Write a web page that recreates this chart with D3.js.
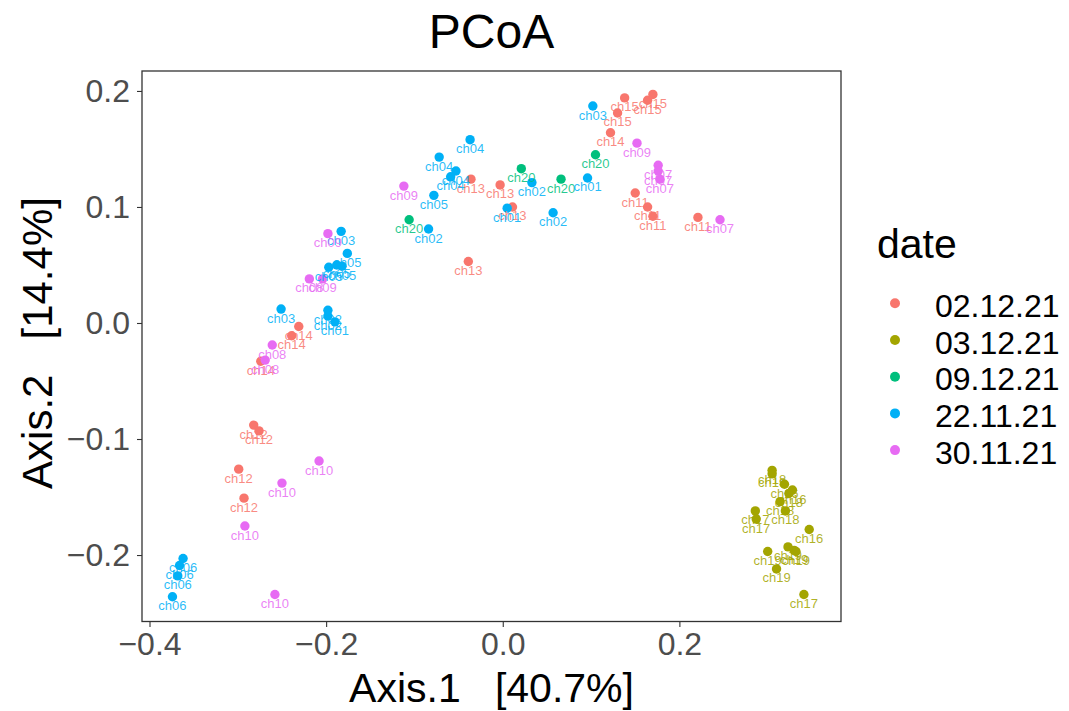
<!DOCTYPE html>
<html>
<head>
  <meta charset="utf-8">
  <title>PCoA</title>
  <script src="https://d3js.org/d3.v7.min.js"></script>
  <style>
    body { margin: 0; background: #fff; }
    svg text { font-family: "Liberation Sans", Arial, Helvetica, sans-serif; }
    .eixo .tick text { fill: #4d4d4d; font-size: 32px; }
    .eixo .tick line { stroke: #333; stroke-width: 1.1; }
    .rotulo { font-size: 13px; fill-opacity: 0.85; }
  </style>
</head>
<body>
<div id="grafico"></div>
<script>
"use strict"

// categorias (datas) e cores do ggplot
var datas = ["02.12.21", "03.12.21", "09.12.21", "22.11.21", "30.11.21"];
var cores = ["#F8766D", "#A3A500", "#00BF7D", "#00B0F6", "#E76BF3"];

// amostras: grupo (indice em datas), rotulo, Axis.1, Axis.2
var grupo = [
  0,0,0,0,0,0,0,0,0,0,0,0,0,0,0,0,0,0,0,0,
  1,1,1,1,1,1,1,1,1,1,1,1,1,1,1,1,
  2,2,2,2,
  3,3,3,3,3,3,3,3,3,3,3,3,3,3,3,3,3,3,3,3,3,3,3,3,
  4,4,4,4,4,4,4,4,4,4,4,4,4,4,4
];
var rotulos = [
  "ch13","ch13","ch13","ch13","ch15","ch15","ch15","ch15","ch14","ch11",
  "ch11","ch11","ch11","ch14","ch14","ch14","ch12","ch12","ch12","ch12",
  "ch18","ch18","ch16","ch16","ch18","ch18","ch18","ch17","ch17","ch16",
  "ch19","ch19","ch19","ch19","ch19","ch17",
  "ch20","ch20","ch20","ch20",
  "ch04","ch04","ch04","ch04","ch05","ch02","ch02","ch01","ch01","ch02",
  "ch03","ch03","ch05","ch05","ch05","ch05","ch03","ch02","ch02","ch01",
  "ch06","ch06","ch06","ch06",
  "ch09","ch09","ch08","ch09","ch08","ch08","ch10","ch10","ch10","ch10",
  "ch09","ch07","ch07","ch07","ch07"
];
var eixo1 = [
  -0.036,-0.003,0.011,-0.039,0.138,0.164,0.170,0.130,0.122,0.150,
  0.164,0.170,0.221,-0.231,-0.239,-0.274,-0.282,-0.276,-0.299,-0.293,
  0.305,0.305,0.319,0.328,0.324,0.314,0.320,0.286,0.287,0.347,
  0.300,0.323,0.330,0.332,0.310,0.341,
  -0.106,0.021,0.066,0.105,
  -0.037,-0.072,-0.053,-0.059,-0.078,-0.084,0.033,0.096,0.005,0.057,
  0.102,-0.183,-0.176,-0.197,-0.188,-0.182,-0.251,-0.198,-0.198,-0.190,
  -0.362,-0.366,-0.368,-0.374,
  -0.112,-0.198,-0.219,-0.204,-0.261,-0.269,-0.208,-0.250,-0.292,-0.258,
  0.152,0.176,0.176,0.178,0.246
];
var eixo2 = [
  0.124,0.119,0.100,0.053,0.194,0.192,0.197,0.181,0.164,0.112,
  0.100,0.092,0.091,-0.003,-0.011,-0.033,-0.088,-0.093,-0.126,-0.151,
  -0.127,-0.130,-0.139,-0.144,-0.147,-0.154,-0.162,-0.162,-0.169,-0.178,
  -0.197,-0.193,-0.196,-0.197,-0.212,-0.234,
  0.089,0.133,0.124,0.145,
  0.158,0.143,0.131,0.126,0.110,0.081,0.121,0.125,0.099,0.095,
  0.187,0.079,0.060,0.048,0.050,0.049,0.012,0.011,0.006,0.001,
  -0.203,-0.209,-0.218,-0.236,
  0.118,0.077,0.038,0.038,-0.019,-0.032,-0.119,-0.138,-0.175,-0.234,
  0.155,0.136,0.131,0.124,0.089
];
var ticksX = [-0.4, -0.2, 0.0, 0.2];
var ticksY = [-0.2, -0.1, 0.0, 0.1, 0.2];

var larguraSVG = 1069, alturaSVG = 711;
var painel = {left: 142, right: 841, top: 71, bottom: 621.5};

var svg = d3.select('#grafico')
  .append('svg')
  .attr('width', larguraSVG)
  .attr('height', alturaSVG);

var x = d3.scaleLinear().domain([-0.4085, 0.3830]).range([painel.left, painel.right]);
var y = d3.scaleLinear().domain([-0.2573, 0.2172]).range([painel.bottom, painel.top]);
var cor = d3.scaleOrdinal().domain(d3.range(datas.length)).range(cores);

var pontos = grupo.map((g, i) => ({g: g, rotulo: rotulos[i], a1: eixo1[i], a2: eixo2[i]}));

// eixos
var eixoX = svg.append('g')
  .attr('class', 'eixo')
  .attr('transform', 'translate(0,' + painel.bottom + ')')
  .call(d3.axisBottom(x).tickValues(ticksX).tickFormat(d3.format('.1f')).tickSize(5.5).tickPadding(5));
var eixoY = svg.append('g')
  .attr('class', 'eixo')
  .attr('transform', 'translate(' + painel.left + ',0)')
  .call(d3.axisLeft(y).tickValues(ticksY).tickFormat(d3.format('.1f')).tickSize(5).tickPadding(7));
eixoX.select('.domain').remove();
eixoY.select('.domain').remove();

// pontos e rotulos
svg.append('g').selectAll('circle')
  .data(pontos)
  .enter().append('circle')
  .attr('cx', d => x(d.a1))
  .attr('cy', d => y(d.a2))
  .attr('r', 4.7)
  .attr('fill', d => cor(d.g));

svg.append('g').selectAll('text')
  .data(pontos)
  .enter().append('text')
  .attr('class', 'rotulo')
  .attr('x', d => x(d.a1))
  .attr('y', d => y(d.a2) + 13.5)
  .attr('text-anchor', 'middle')
  .attr('fill', d => cor(d.g))
  .text(d => d.rotulo);

// borda do painel
svg.append('rect')
  .attr('x', painel.left).attr('y', painel.top)
  .attr('width', painel.right - painel.left).attr('height', painel.bottom - painel.top)
  .attr('fill', 'none').attr('stroke', '#333').attr('stroke-width', 1.3);

// titulos
svg.append('text')
  .attr('x', (painel.left + painel.right) / 2).attr('y', 48)
  .attr('text-anchor', 'middle').style('font-size', '48px')
  .text('PCoA');
svg.append('text')
  .attr('x', (painel.left + painel.right) / 2).attr('y', 702)
  .attr('text-anchor', 'middle').style('font-size', '41px').style('white-space', 'pre')
  .text('Axis.1   [40.7%]');
svg.append('text')
  .attr('transform', 'translate(52,343) rotate(-90)')
  .attr('text-anchor', 'middle').style('font-size', '42px').style('white-space', 'pre')
  .text('Axis.2   [14.4%]');

// legenda
var legenda = svg.append('g');
legenda.append('text').attr('x', 877).attr('y', 258).style('font-size', '41px').text('date');
datas.forEach(function(d, i) {
  var ly = 303.3 + i * 36.7;
  legenda.append('circle').attr('cx', 895).attr('cy', ly).attr('r', 5).attr('fill', cor(i));
  legenda.append('text').attr('x', 935).attr('y', ly + 13.5).style('font-size', '32px').text(d);
});
</script>
</body>
</html>
